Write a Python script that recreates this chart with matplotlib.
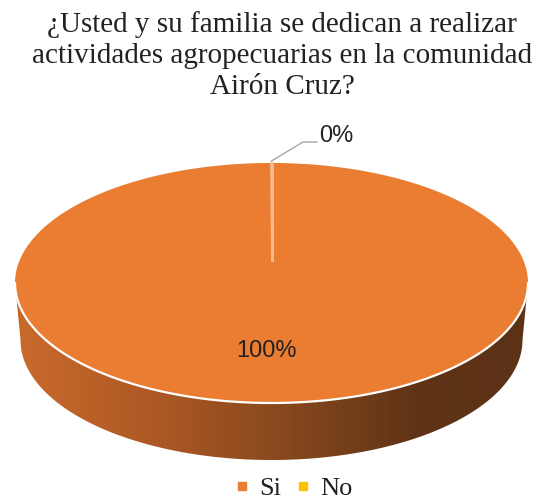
import numpy as np
import matplotlib
matplotlib.use("Agg")
import matplotlib.pyplot as plt
from matplotlib.patches import Polygon
from matplotlib.lines import Line2D
from matplotlib.colors import LinearSegmentedColormap

# Survey answers
categories = ["Si", "No"]
values = [100, 0]
colors = ["#EA7D32", "#FFC000"]
title = "¿Usted y su familia se dedican a realizar\nactividades agropecuarias en la comunidad\nAirón Cruz?"

W, H = 539, 504
fig = plt.figure(figsize=(W / 100, H / 100), dpi=100)
ax = fig.add_axes([0, 0, 1, 1])
ax.set_xlim(0, W)
ax.set_ylim(H, 0)
ax.axis("off")

# 3D pie geometry (pixel space of the axes)
cx, cy, rx, ry = 271.5, 283.0, 256.5, 120.0   # top face
depth, rx_bot = 57.0, 251.0                    # extrusion
pcy = 260.0                                    # apparent centre of the top face
start_angle = 90.0

def top_pt(theta_deg):
    t = np.radians(theta_deg)
    return cx + rx * np.cos(t), cy - ry * np.sin(t)

# Side wall: lower half of top ellipse down to a slightly narrower bottom ellipse
t_front = np.linspace(np.pi, 2 * np.pi, 300)
top_front = np.column_stack([cx + rx * np.cos(t_front), cy - ry * np.sin(t_front)])
t_back = t_front[::-1]
bot_front = np.column_stack([cx + rx_bot * np.cos(t_back), cy + depth - ry * np.sin(t_back)])
side = Polygon(np.vstack([top_front, bot_front]), closed=True, facecolor="none", edgecolor="none")
ax.add_patch(side)

side_cmap = LinearSegmentedColormap.from_list(
    "side",
    [(0.0, (201/255, 106/255, 44/255)),
     (0.25, (176/255, 90/255, 37/255)),
     (0.50, (139/255, 74/255, 30/255)),
     (0.78, (95/255, 52/255, 22/255)),
     (1.0, (92/255, 50/255, 22/255))])
grad = np.linspace(0, 1, 512).reshape(1, -1)
im = ax.imshow(grad, cmap=side_cmap, aspect="auto",
               extent=[cx - rx, cx + rx, cy + depth + ry + 2, cy - 5], zorder=1)
im.set_clip_path(side)

# Top face: one wedge per category, angles from the values
total = float(sum(values))
angle = start_angle
bounds = []
for v, c in zip(values, colors):
    sweep = 360.0 * v / total
    if sweep > 0:
        ts = np.linspace(angle, angle - sweep, 400)
        pts = [top_pt(t) for t in ts]
        if sweep < 360:
            pts = [(cx, pcy)] + pts
        ax.add_patch(Polygon(pts, closed=True, facecolor=c, edgecolor="none", zorder=2))
    bounds.append(angle)
    angle -= sweep

# White rim along the visible front edge
ax.plot(top_front[:, 0], top_front[:, 1], color="white", lw=1.6, zorder=3,
        solid_capstyle="round")

# Slice boundaries on the top face
for b in bounds:
    px, py = top_pt(b)
    ax.plot([cx, px], [pcy, py], color="#F6BB90", lw=2.0, zorder=3)

# Data labels
pcts = [f"{v / total * 100:.0f}%" for v in values]
lab_font = dict(family="Liberation Sans", fontsize=17, color="#222222")
ax.text(266, 351, pcts[0], ha="center", va="center", zorder=4, **lab_font)
lx, ly = top_pt(bounds[1])
ax.plot([lx, 303, 317], [ly - 2, 142, 142], color="#A6A6A6", lw=1.0, zorder=4)
ax.text(319, 136, pcts[1], ha="left", va="center", zorder=4, **lab_font)

# Title
fig.text(282 / W, 1 - 11 / H, title, ha="center", va="top",
         family="Liberation Serif", fontsize=21, color="#222222", linespacing=1.26)

# Legend
handles = [Line2D([], [], marker="s", linestyle="none", markersize=6,
                  markerfacecolor=c, markeredgecolor=c) for c in colors]
leg = fig.legend(handles, categories, loc="center", bbox_to_anchor=(294 / W, 1 - 488 / H),
                 ncol=2, frameon=False, handlelength=0.5, handletextpad=0.4,
                 columnspacing=0.6, prop={"family": "Liberation Serif", "size": 19})
for t in leg.get_texts():
    t.set_color("#222222")

fig.savefig("out.png", dpi=100)
